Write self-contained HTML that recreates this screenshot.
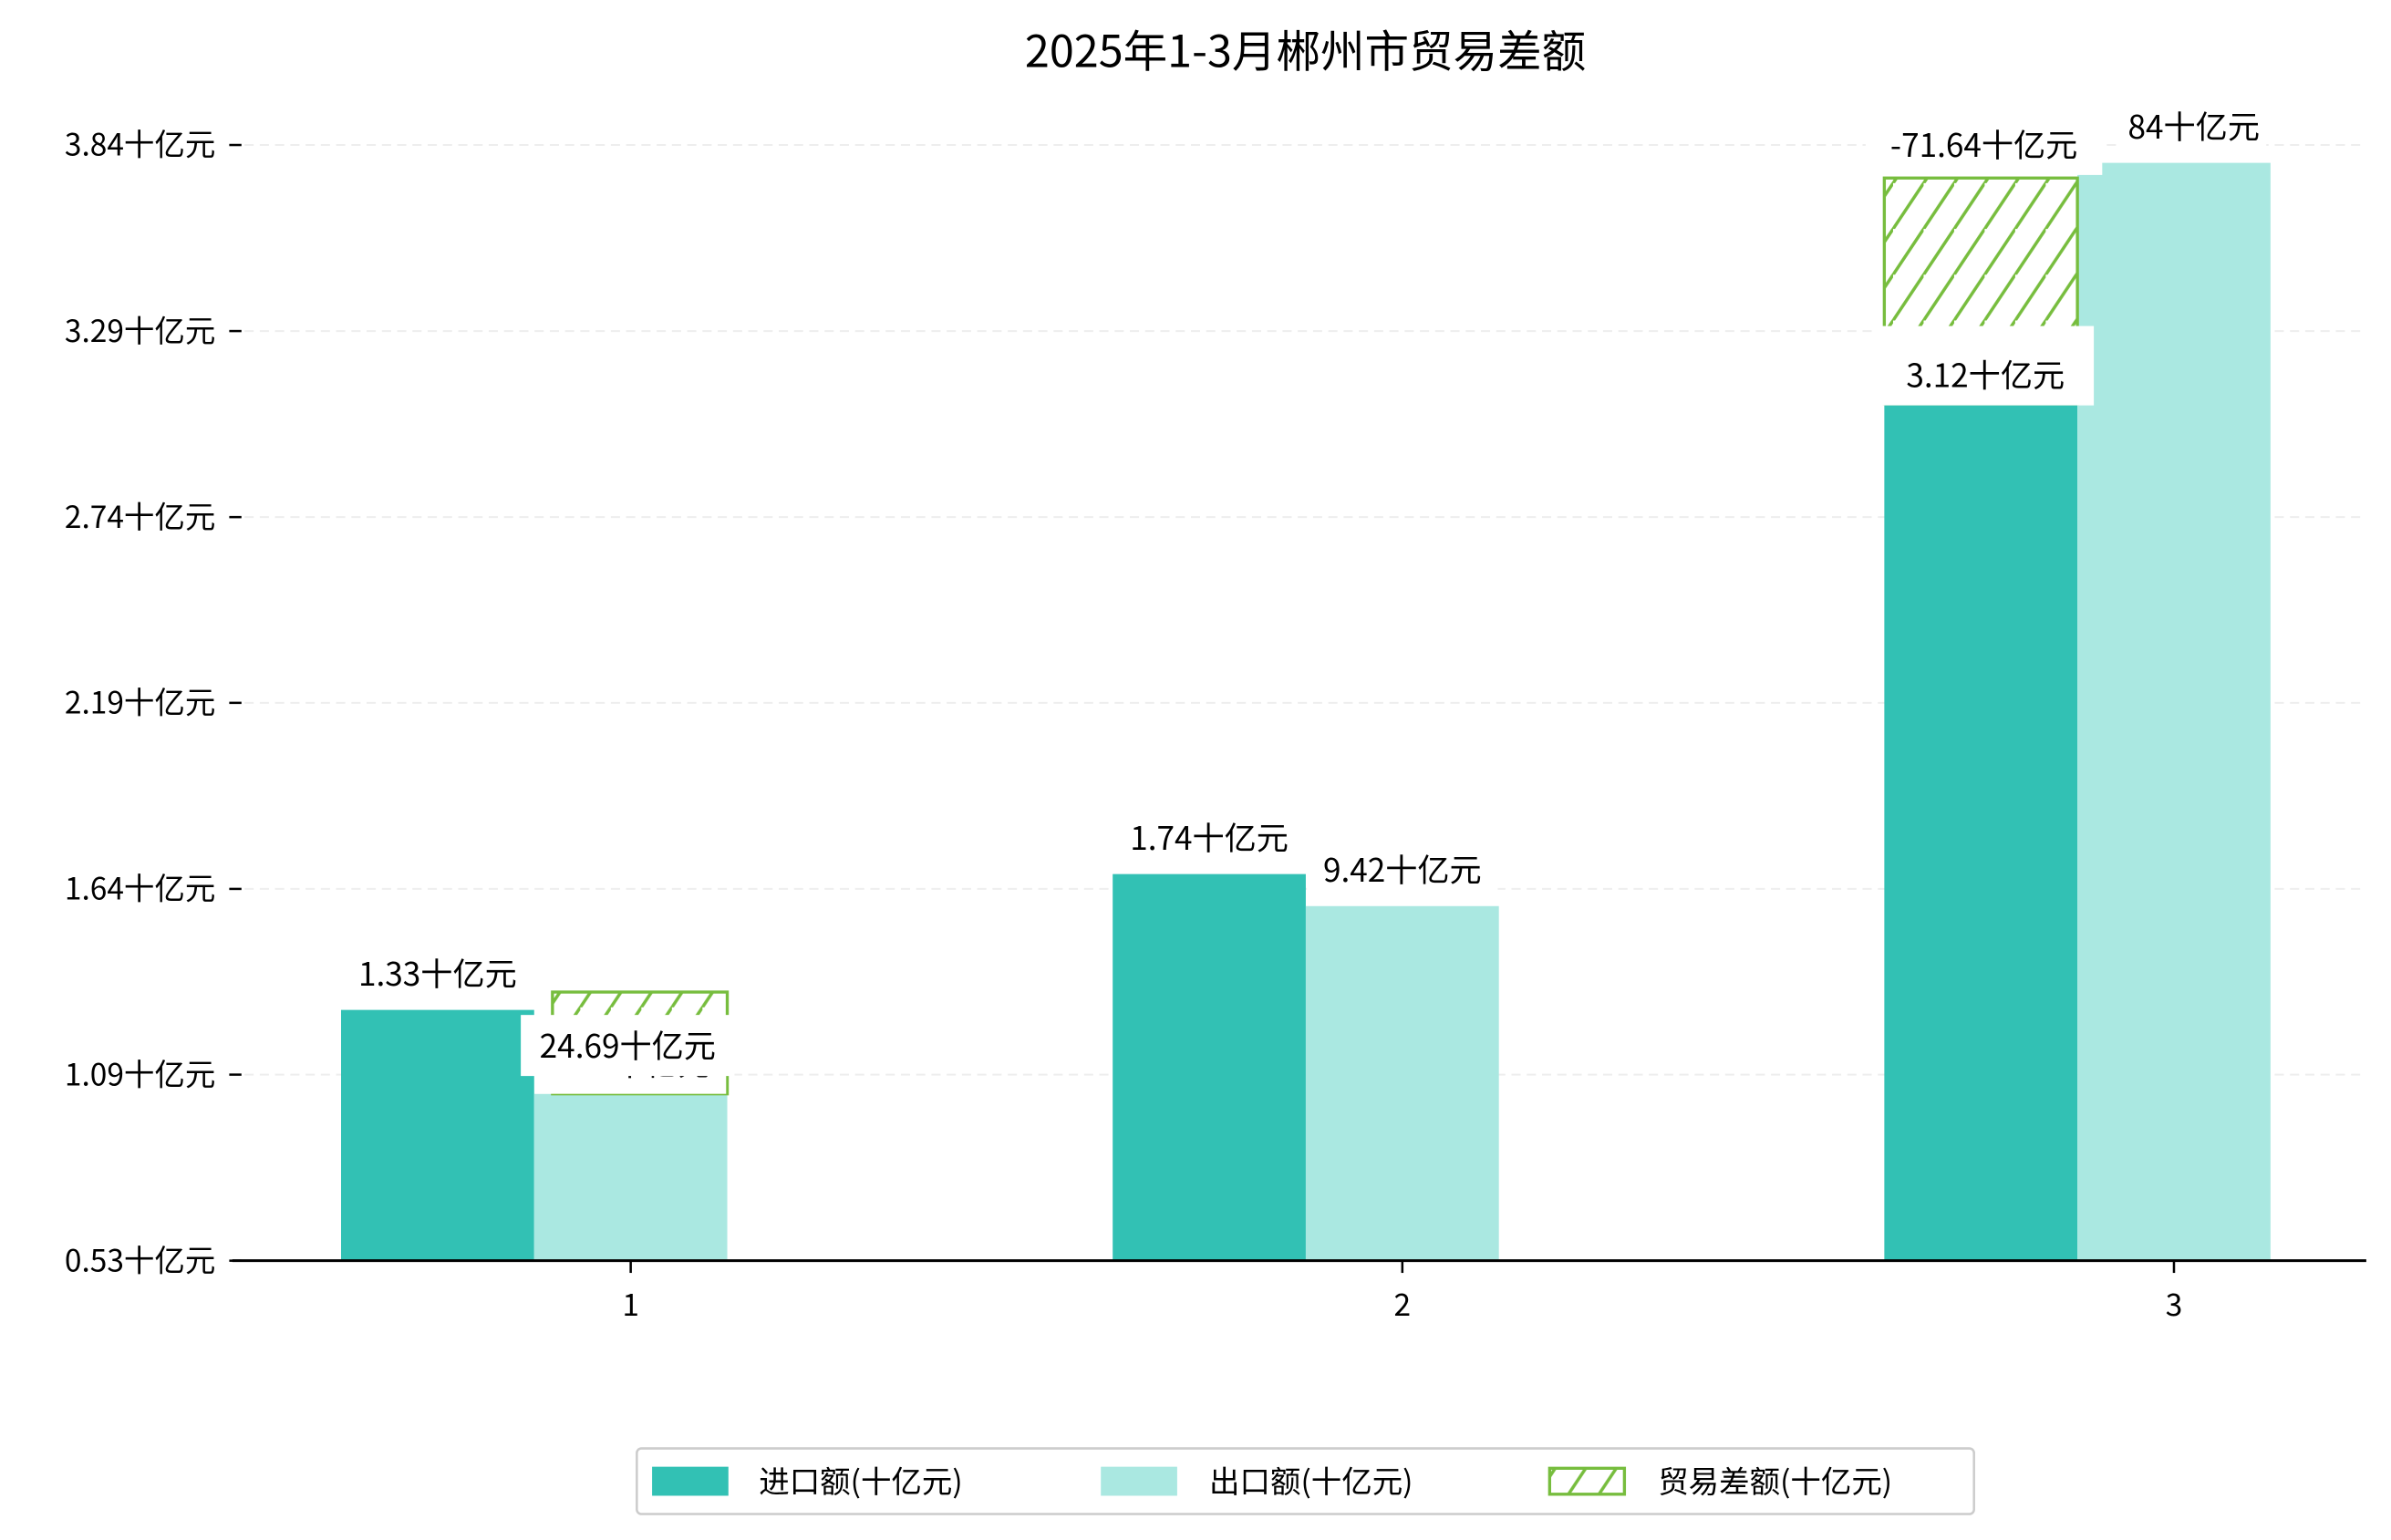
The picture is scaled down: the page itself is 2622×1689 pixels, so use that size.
<!DOCTYPE html>
<html><head><meta charset="utf-8"><style>
html,body{margin:0;padding:0;background:#fff;}
svg{display:block;font-family:"WenQuanYi Zen Hei","Noto Sans CJK SC","Liberation Sans",sans-serif;}
</style></head><body>
<svg id="chart" width="2622" height="1689" viewBox="0 0 1566 1009" xmlns="http://www.w3.org/2000/svg">
<defs>
<pattern id="hatch" patternUnits="userSpaceOnUse" width="20" height="30">
<line x1="-10" y1="45" x2="20" y2="0" stroke="#77bd3e" stroke-width="2"/>
<line x1="0" y1="30" x2="20" y2="0" stroke="#77bd3e" stroke-width="2"/>
<line x1="0" y1="60" x2="40" y2="0" stroke="#77bd3e" stroke-width="2"/>
</pattern>
</defs>
<text x="855" y="44" text-anchor="middle" font-size="29">2025年1-3月郴州市贸易差额</text>
<g id="grid"></g><g id="bars"></g><g id="labels"></g><g id="axes"></g>
<g>
<rect x="417" y="949" width="876" height="43" rx="3" fill="#fff" stroke="#cccccc" stroke-width="1.5"/>
<rect x="427" y="961" width="50" height="19" fill="#32c1b4"/>
<text x="497" y="978" font-size="20">进口额(十亿元)</text>
<rect x="721" y="961" width="50" height="19" fill="#aae8e1"/>
<text x="792" y="978" font-size="20">出口额(十亿元)</text>
<rect x="1015" y="962" width="49" height="17" fill="url(#hatch)" stroke="#77bd3e" stroke-width="2"/>
<text x="1086" y="978" font-size="20">贸易差额(十亿元)</text>
</g>
</svg>
<script>
const categories = ['1', '2', '3'];
const importVals = [1.277, 1.68, 3.075];
const exportVals = [1.028, 1.585, 3.79];
const balanceLow = [1.028, null, 3.075];
const balanceHigh = [1.33, null, 3.745];
const balanceSlot = ['export', null, 'import'];
const yTickVals = [0.533, 1.085, 1.636, 2.188, 2.739, 3.291, 3.843];
const yTickLabels = ['0.53十亿元', '1.09十亿元', '1.64十亿元', '2.19十亿元', '2.74十亿元', '3.29十亿元', '3.84十亿元'];
const importLabels = ['1.33十亿元', '1.74十亿元', '3.12十亿元'];
const exportLabels = ['1.03十亿元', '9.42十亿元', '84十亿元'];
const balanceLabels = ['24.69十亿元', null, '-71.64十亿元'];

const NS = 'http://www.w3.org/2000/svg';
const X0 = 152, X1 = 1550, Y0 = 826, Y1 = 95;
const yMin = 0.533, yMax = 3.843;
function yScale(v) { return Y0 - (v - yMin) / (yMax - yMin) * (Y0 - Y1); }
function xCenter(i) { return 413 + i * 505.5; }
const BW = 126.5;
function slotX(i, slot) { return slot === 'import' ? xCenter(i) - 1.5 * BW : xCenter(i) - 0.5 * BW; }
function mk(tag, attrs, parent) {
  const e = document.createElementNS(NS, tag);
  for (const k in attrs) e.setAttribute(k, attrs[k]);
  parent.appendChild(e); return e;
}
const grid = document.getElementById('grid');
const bars = document.getElementById('bars');
const labels = document.getElementById('labels');
const axes = document.getElementById('axes');

yTickVals.forEach((v, i) => {
  const y = yScale(v);
  if (i > 0) {
    const g = mk('line', {x1: 160, x2: X1, y1: y, y2: y, stroke: '#eeeeee', 'stroke-width': 1.2, 'stroke-dasharray': '6,4'}, grid);
    
    
  }
  const t = mk('line', {x1: 150, x2: 158, y1: y, y2: y, stroke: '#000', 'stroke-width': 1.5}, axes);
  
  
  const l = mk('text', {x: 141, y: y + 7, 'text-anchor': 'end', 'font-size': 20}, axes);
  l.textContent = yTickLabels[i];
  
  
});

categories.forEach((c, i) => {
  const yi = yScale(importVals[i]);
  const bi = mk('rect', {x: slotX(i, 'import'), y: yi, width: BW, height: Y0 - yi, fill: '#32c1b4'}, bars);
  
  
  const ye = yScale(exportVals[i]);
  const be = mk('rect', {x: slotX(i, 'export'), y: ye, width: BW, height: Y0 - ye, fill: '#aae8e1'}, bars);
  
  
  if (balanceHigh[i] !== null) {
    const yh = yScale(balanceHigh[i]), yl = yScale(balanceLow[i]);
    const bx = slotX(i, balanceSlot[i]);
    const bb = mk('rect', {x: bx + (i === 0 ? 12 : 0), y: yh, width: BW - (i === 0 ? 12 : 0), height: yl - yh, fill: 'url(#hatch)', stroke: '#77bd3e', 'stroke-width': 2}, bars);
    
    
  }
});

function label(txt, cx, topY, boxed, name, boxH, boxW) {
  const w = boxW || (txt.length * 15 + 20);
  const h = boxH || 40;
  if (boxed) {
    const r = mk('rect', {x: cx - w / 2, y: topY + 8 - h, width: w, height: h, fill: '#fff'}, labels);
    
    
  }
  const t = mk('text', {x: cx, y: topY - 4, 'text-anchor': 'middle', 'font-size': 21}, labels);
  t.textContent = txt;
  
  
}
categories.forEach((c, i) => {
  if (i === 2) {
    label(importLabels[i], slotX(i, 'import') + BW / 2 + 3, yScale(importVals[i]) - 7, true, 'label-import-' + c, 52, 142);
  } else {
    label(importLabels[i], slotX(i, 'import') + BW / 2, yScale(importVals[i]) - 12, false, 'label-import-' + c);
  }
  label(exportLabels[i], slotX(i, 'export') + BW / 2 + (i === 2 ? 13 : 0), yScale(exportVals[i]) - (i === 0 ? 8 : 12), true, 'label-export-' + c);
  if (balanceHigh[i] !== null) {
    const bx = slotX(i, balanceSlot[i]) + BW / 2;
    const ly = i === 0 ? yScale(balanceHigh[i]) + 47 : yScale(balanceHigh[i]) - 10;
    label(balanceLabels[i], bx + (i === 0 ? -2 : 2), ly, true, 'label-balance-' + c);
  }
});

const ax = mk('line', {x1: X0, x2: X1, y1: Y0, y2: Y0, stroke: '#000', 'stroke-width': 1.8}, axes);


categories.forEach((c, i) => {
  const t = mk('line', {x1: xCenter(i), x2: xCenter(i), y1: Y0, y2: Y0 + 8, stroke: '#000', 'stroke-width': 1.5}, axes);
  
  
  const l = mk('text', {x: xCenter(i), y: 862, 'text-anchor': 'middle', 'font-size': 20}, axes);
  l.textContent = c;
  
  
});
</script>
</body></html>
